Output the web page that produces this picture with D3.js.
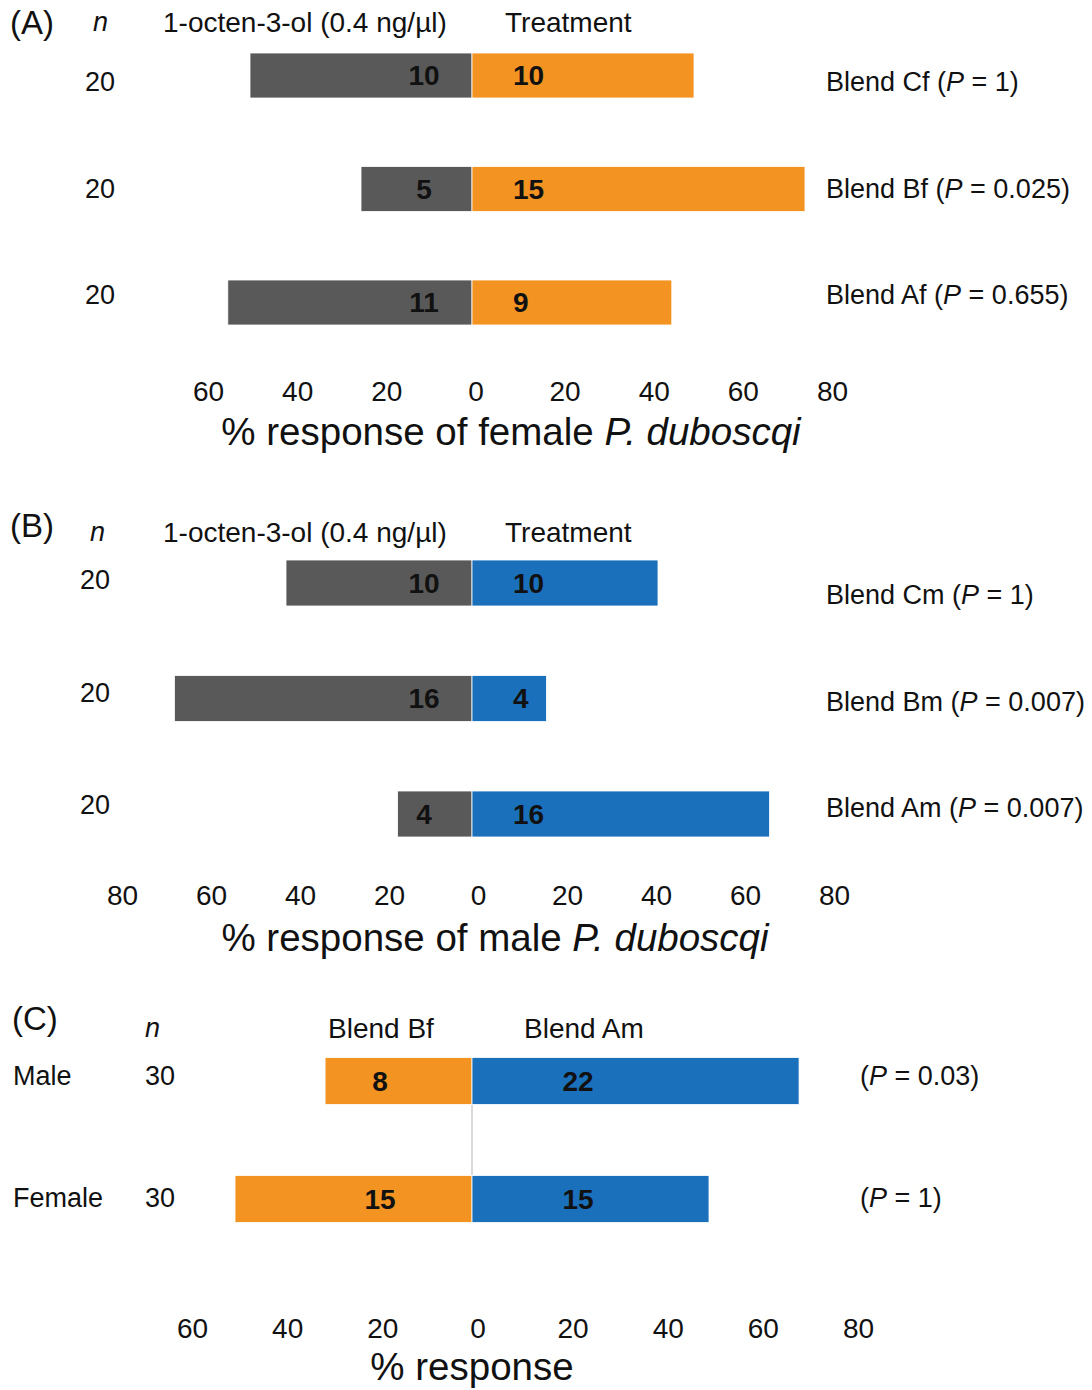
<!DOCTYPE html>
<html>
<head>
<meta charset="utf-8">
<script src="https://cdn.jsdelivr.net/npm/d3@7"></script>
<style>
  body { margin: 0; background: #fff; }
  svg { display: block; font-family: "Liberation Sans", Arial, sans-serif; }
</style>
</head>
<body>
<svg id="chart" width="1092" height="1390"></svg>
<script>
// ---- données ----
// (A) femelles : témoin 1-octen-3-ol vs traitement
const blendsA = ["Blend Cf", "Blend Bf", "Blend Af"];
const pA = ["1", "0.025", "0.655"];
const nA = [20, 20, 20];
const ctrlA = [10, 5, 11];
const trtA = [10, 15, 9];
const pctCtrlA = [50, 25, 55];
const pctTrtA = [50, 75, 45];

// (B) mâles
const blendsB = ["Blend Cm", "Blend Bm", "Blend Am"];
const pB = ["1", "0.007", "0.007"];
const nB = [20, 20, 20];
const ctrlB = [10, 16, 4];
const trtB = [10, 4, 16];
const pctCtrlB = [50, 80, 20];
const pctTrtB = [50, 20, 80];

// (C) Blend Bf vs Blend Am
const sexC = ["Male", "Female"];
const pC = ["0.03", "1"];
const nC = [30, 30];
const bfC = [8, 15];
const amC = [22, 15];
const pctBfC = [31, 50];
const pctAmC = [69, 50];

const ticksA = [-60, -40, -20, 0, 20, 40, 60, 80];
const ticksB = [-80, -60, -40, -20, 0, 20, 40, 60, 80];
const ticksC = [-60, -40, -20, 0, 20, 40, 60, 80];

const GREY = "#595959", ORANGE = "#f39322", BLUE = "#1b70bb";

const svg = d3.select("#chart");

function label(x, y, str, size, opts = {}) {
  const t = svg.append("text")
    .attr("x", x).attr("y", y).attr("dy", "0.35em")
    .attr("font-size", size)
    .attr("fill", "#111")
    .attr("text-anchor", opts.anchor || "start")
    .attr("font-weight", opts.bold ? "bold" : null)
    .attr("font-style", opts.italic ? "italic" : null)
    .text(str);
  return t;
}

function pLabel(x, y, prefix, p, size) {
  const t = label(x, y, prefix + "(", size);
  t.append("tspan").attr("font-style", "italic").text("P");
  t.append("tspan").text(" = " + p + ")");
}

function drawPanel(cfg) {
  const xBar = d3.scaleLinear().domain([-80, 80]).range([472 - 80 * cfg.pxPer, 472 + 80 * cfg.pxPer]);
  const yBar = d3.scalePoint().domain(cfg.rows).range(cfg.barY);
  const ySide = d3.scalePoint().domain(cfg.rows).range(cfg.sideY);
  const yP = d3.scalePoint().domain(cfg.rows).range(cfg.pY || cfg.sideY);
  const h = cfg.barH;

  const rows = cfg.rows.map((r, i) => ({
    r, left: cfg.pctL[i], right: cfg.pctR[i], cl: cfg.cntL[i], cr: cfg.cntR[i], n: cfg.n[i], p: cfg.p[i]
  }));

  const g = svg.append("g");

  if (cfg.divider) {
    g.append("line")
      .attr("x1", xBar(0)).attr("x2", xBar(0))
      .attr("y1", yBar(cfg.rows[0])).attr("y2", yBar(cfg.rows[cfg.rows.length - 1]))
      .attr("stroke", "#d9d9d9").attr("stroke-width", 2);
  }

  g.selectAll(".barL").data(rows).enter().append("rect")
    .attr("x", d => xBar(-d.left))
    .attr("width", d => xBar(0) - xBar(-d.left))
    .attr("y", d => yBar(d.r) - h / 2)
    .attr("height", h)
    .attr("fill", cfg.colL)
    .attr("stroke", "#fff").attr("stroke-width", 0.8);

  g.selectAll(".barR").data(rows).enter().append("rect")
    .attr("x", xBar(0))
    .attr("width", d => xBar(d.right) - xBar(0))
    .attr("y", d => yBar(d.r) - h / 2)
    .attr("height", h)
    .attr("fill", cfg.colR)
    .attr("stroke", "#fff").attr("stroke-width", 0.8);

  rows.forEach(d => {
    const y = yBar(d.r);
    label(cfg.lblL, y, d.cl, 28, { bold: true, anchor: "middle" });
    label(cfg.lblR, y, d.cr, 28, { bold: true, anchor: cfg.lblRAnchor });
    const ys = ySide(d.r);
    label(cfg.nX, ys, d.n, 27);
    if (cfg.rowNames) label(13, ys, d.r, 27);
    pLabel(cfg.pX, yP(d.r), cfg.rowNames ? "" : d.r + " ", d.p, 27);
  });

  // axe
  const xAxis = d3.scaleLinear().domain([cfg.ticks[0], cfg.ticks[cfg.ticks.length - 1]]).range(cfg.axisRange);
  const ax = svg.append("g")
    .attr("transform", `translate(0,${cfg.axisY - 10})`)
    .call(d3.axisBottom(xAxis).tickValues(cfg.ticks).tickFormat(v => Math.abs(v)).tickSize(0).tickPadding(0));
  ax.select(".domain").remove();
  ax.selectAll("text").attr("font-size", 28).attr("font-family", "Liberation Sans, Arial, sans-serif").attr("fill", "#111");

  // titre de l'axe
  const tt = label(cfg.titleX, cfg.titleY, cfg.title, 38.5, { anchor: "middle" });
  if (cfg.titleItalic) tt.append("tspan").attr("font-style", "italic").text(cfg.titleItalic);

  // en-tête
  label(cfg.tagX, cfg.tagY, cfg.tag, 33);
  label(cfg.nHeadX, cfg.headY, "n", 27, { italic: true });
  label(cfg.headLX, cfg.headY, cfg.headL, 28);
  label(cfg.headRX, cfg.headY, cfg.headR, 28);
}

drawPanel({
  rows: blendsA, pctL: pctCtrlA, pctR: pctTrtA, cntL: ctrlA, cntR: trtA, n: nA, p: pA,
  colL: GREY, colR: ORANGE, pxPer: 4.44, barY: [75.5, 302.5], sideY: [82, 295], barH: 45,
  lblL: 424, lblR: 513, lblRAnchor: "start", nX: 85, pX: 826,
  ticks: ticksA, axisRange: [208, 832], axisY: 391,
  title: "% response of female ", titleItalic: "P. duboscqi", titleX: 511, titleY: 432,
  tag: "(A)", tagX: 10, tagY: 22, nHeadX: 93, headY: 22,
  headL: "1-octen-3-ol (0.4 ng/\u00b5l)", headLX: 163, headR: "Treatment", headRX: 505
});

drawPanel({
  rows: blendsB, pctL: pctCtrlB, pctR: pctTrtB, cntL: ctrlB, cntR: trtB, n: nB, p: pB,
  colL: GREY, colR: BLUE, pxPer: 3.72, barY: [583, 814], sideY: [580, 805], pY: [595, 808], barH: 46,
  lblL: 424, lblR: 513, lblRAnchor: "start", nX: 80, pX: 826,
  ticks: ticksB, axisRange: [122, 834], axisY: 895,
  title: "% response of male ", titleItalic: "P. duboscqi", titleX: 495, titleY: 938,
  tag: "(B)", tagX: 10, tagY: 525, nHeadX: 90, headY: 532,
  headL: "1-octen-3-ol (0.4 ng/\u00b5l)", headLX: 163, headR: "Treatment", headRX: 505
});

drawPanel({
  rows: sexC, pctL: pctBfC, pctR: pctAmC, cntL: bfC, cntR: amC, n: nC, p: pC, rowNames: true,
  colL: ORANGE, colR: BLUE, pxPer: 4.74, barY: [1081, 1199], sideY: [1076, 1198], barH: 47,
  divider: true,
  lblL: 380, lblR: 578, lblRAnchor: "middle", nX: 145, pX: 860,
  ticks: ticksC, axisRange: [192, 858], axisY: 1328,
  title: "% response", titleX: 472, titleY: 1367,
  tag: "(C)", tagX: 12, tagY: 1018, nHeadX: 145, headY: 1028,
  headL: "Blend Bf", headLX: 328, headR: "Blend Am", headRX: 524
});
</script>
</body>
</html>
